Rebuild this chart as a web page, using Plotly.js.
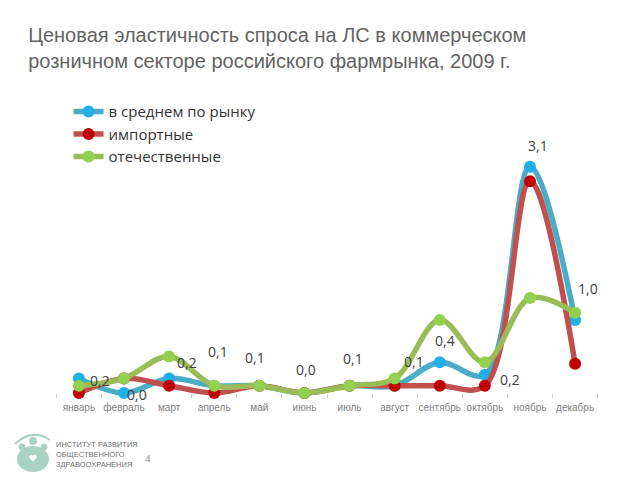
<!DOCTYPE html>
<html>
<head>
<meta charset="utf-8">
<script src="https://cdn.plot.ly/plotly-3.0.1.min.js"></script>
<style>
  html, body { margin: 0; padding: 0; background: #fff; }
  #chart { width: 640px; height: 480px; }
</style>
</head>
<body>
<div id="chart"></div>
<script>
const MONTHS = ['январь', 'февраль', 'март', 'апрель', 'май', 'июнь',
  'июль', 'август', 'сентябрь', 'октябрь', 'ноябрь', 'декабрь'];

const AVERAGE = [0.2, 0.0, 0.2, 0.1, 0.1, 0.0, 0.1, 0.1, 0.42, 0.25, 3.1, 1.0];
const IMPORTED = [0.0, 0.2, 0.1, 0.0, 0.1, 0.0, 0.1, 0.1, 0.1, 0.1, 2.9, 0.4];
const DOMESTIC = [0.1, 0.2, 0.5, 0.1, 0.1, 0.0, 0.1, 0.2, 1.0, 0.42, 1.3, 1.1];

const SERIES_NAMES = ['в среднем по рынку', 'импортные', 'отечественные'];

// labels shown on the chart (average series)
const LABELS = ['0,2', '0,0', '0,2', '0,1', '0,1', '0,0', '0,1', '0,1', '0,4', '0,2', '3,1', '1,0'];
// pixel offsets of each label from its point
const LABEL_DX = [21, 13, 18, 4, -4, 2, 3, 19, 5, 25, 8, 13];
const LABEL_DY = [-2, -2, 16, 34, 28, 23, 27, 24, 22, -5, 21, 32];

const LINE_W = 5.5;
const MARKER_SIZE = 12;

// plot area in pixels (for the decorative logo)
const PLOT_L = 43, PLOT_W = 568, PLOT_T = 80, PLOT_H = 340;
const px = (x) => (x - PLOT_L) / PLOT_W;
const py = (y) => (PLOT_T + PLOT_H - y) / PLOT_H;

function seriesTrace(name, values, lineColor, markerColor) {
  return {
    x: MONTHS,
    y: values,
    name: name,
    mode: 'lines+markers',
    line: {color: lineColor, width: LINE_W, shape: 'spline', smoothing: 1},
    marker: {color: markerColor, size: MARKER_SIZE},
    cliponaxis: false,
    hoverinfo: 'skip'
  };
}

var data = [
  seriesTrace(SERIES_NAMES[0], AVERAGE, '#4bacc6', '#1eb0e6'),
  seriesTrace(SERIES_NAMES[1], IMPORTED, '#c0504d', '#c00000'),
  seriesTrace(SERIES_NAMES[2], DOMESTIC, '#9bbb59', '#92d050')
];

var annotations = MONTHS.map((m, i) => ({
  x: m,
  y: AVERAGE[i],
  xref: 'x',
  yref: 'y',
  text: LABELS[i],
  showarrow: false,
  xshift: LABEL_DX[i],
  yshift: LABEL_DY[i],
  font: {family: 'Open Sans, sans-serif', size: 14, color: '#404040'}
}));

// logo text and page number
annotations.push({
  xref: 'paper', yref: 'paper', x: px(54), y: py(438),
  xanchor: 'left', yanchor: 'top', align: 'left', showarrow: false,
  text: 'ИНСТИТУТ РАЗВИТИЯ<br>ОБЩЕСТВЕННОГО<br>ЗДРАВООХРАНЕНИЯ',
  font: {family: 'Liberation Sans Narrow, Liberation Sans, sans-serif', size: 7.5, color: '#6f6f6f'}
});
annotations.push({
  xref: 'paper', yref: 'paper', x: px(148), y: py(458),
  xanchor: 'center', yanchor: 'middle', showarrow: false,
  text: '4',
  font: {family: 'Liberation Serif, serif', size: 11, color: '#888'}
});

const LOGO = '#a9d2c3';

var layout = {
  width: 640,
  height: 480,
  margin: {l: PLOT_L, r: 640 - PLOT_L - PLOT_W, t: PLOT_T, b: 480 - PLOT_T - PLOT_H},
  paper_bgcolor: '#ffffff',
  plot_bgcolor: '#ffffff',
  title: {
    text: 'Ценовая эластичность спроса на ЛС в коммерческом<br>розничном секторе российского фармрынка, 2009 г.',
    xref: 'container', yref: 'container',
    x: 0.044, xanchor: 'left',
    y: 1 - 42 / 480, yanchor: 'middle',
    font: {family: 'Liberation Sans, Arial, sans-serif', size: 20, color: '#636363'}
  },
  showlegend: true,
  legend: {
    x: 0.045, y: 0.955, xanchor: 'left', yanchor: 'top',
    bgcolor: 'rgba(0,0,0,0)',
    itemwidth: 30,
    font: {family: 'Open Sans, sans-serif', size: 15, color: '#333333'}
  },
  xaxis: {
    type: 'category',
    anchor: 'free',
    position: 27 / 340,
    automargin: false,
    tickangle: 0,
    showline: false,
    showgrid: false,
    zeroline: false,
    ticks: 'outside',
    tickson: 'boundaries',
    ticklen: 4,
    tickcolor: '#cfcfcf',
    ticklabelstandoff: 7,
    tickfont: {family: 'Liberation Sans Narrow, Liberation Sans, sans-serif', size: 10, color: '#808080'},
    fixedrange: true
  },
  yaxis: {
    range: [-0.37, 4.288],
    visible: false,
    showgrid: false,
    zeroline: false,
    fixedrange: true
  },
  shapes: [
    // logo: arc, three heads, body with a heart
    {type: 'path', xref: 'paper', yref: 'paper',
     path: `M ${px(15)},${py(444)} Q ${px(32)},${py(428)} ${px(50)},${py(440)}`,
     line: {color: LOGO, width: 2}},
    {type: 'circle', xref: 'paper', yref: 'paper',
     x0: px(17), x1: px(49), y0: py(472), y1: py(446),
     fillcolor: LOGO, line: {width: 0}},
    {type: 'circle', xref: 'paper', yref: 'paper',
     x0: px(18.5), x1: px(25.5), y0: py(450.5), y1: py(443.5),
     fillcolor: LOGO, line: {width: 0}},
    {type: 'circle', xref: 'paper', yref: 'paper',
     x0: px(29), x1: px(37), y0: py(445), y1: py(437),
     fillcolor: LOGO, line: {width: 0}},
    {type: 'circle', xref: 'paper', yref: 'paper',
     x0: px(40.5), x1: px(47.5), y0: py(450.5), y1: py(443.5),
     fillcolor: LOGO, line: {width: 0}},
    {type: 'path', xref: 'paper', yref: 'paper',
     path: `M ${px(33)},${py(462)} L ${px(29)},${py(457)} Q ${px(31)},${py(453)} ${px(33)},${py(456)} Q ${px(35)},${py(453)} ${px(37)},${py(457)} Z`,
     fillcolor: '#ffffff', line: {width: 0}}
  ],
  annotations: annotations,
  hovermode: false
};

Plotly.newPlot('chart', data, layout, {displayModeBar: false, staticPlot: true});
</script>
</body>
</html>
